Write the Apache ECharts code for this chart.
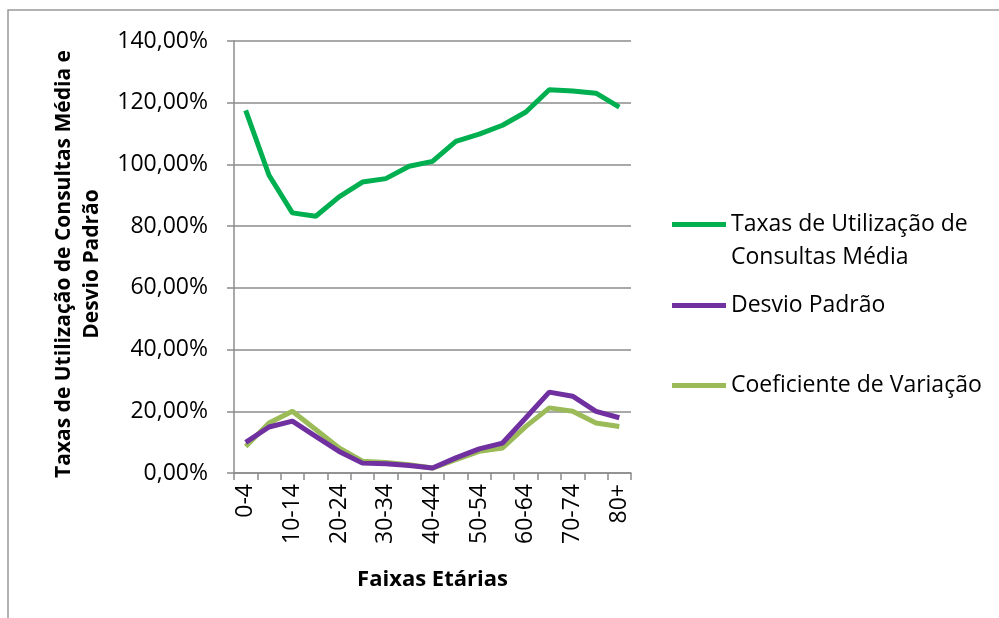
<!DOCTYPE html>
<html>
<head>
<meta charset="utf-8">
<script src="https://cdn.jsdelivr.net/npm/echarts@6/dist/echarts.min.js"></script>
<style>
	html, body { margin: 0; padding: 0; background: #fff; }
	#chart { width: 999px; height: 618px; }
</style>
</head>
<body>
<div id="chart"></div>
<script>
var faixas = ['0-4', '5-9', '10-14', '15-19', '20-24', '25-29', '30-34', '35-39', '40-44',
	'45-49', '50-54', '55-59', '60-64', '65-69', '70-74', '75-79', '80+'];

var taxaMedia = [117.5, 96.5, 84.3, 83.2, 89.5, 94.3, 95.4, 99.4, 101.0,
	107.5, 109.8, 112.7, 117.0, 124.2, 123.8, 123.1, 118.6];

var desvioPadrao = [9.9, 14.9, 16.8, 11.9, 7.0, 3.2, 3.0, 2.4, 1.6,
	4.9, 7.8, 9.7, 17.9, 26.2, 24.9, 20.0, 17.9];

var coefVariacao = [8.6, 16.2, 20.0, 14.1, 8.1, 3.8, 3.4, 2.7, 1.6,
	4.3, 7.0, 8.1, 15.1, 21.1, 20.0, 16.2, 15.1];

var nomes = ['Taxas de Utilização de\nConsultas Média', 'Desvio Padrão', 'Coeficiente de Variação'];
var cores = ['#00b050', '#7030a0', '#9bbb59'];

var fonte = '"Open Sans", sans-serif';
var cinza = '#8c8c8c';

function legenda(i, top) {
	return {
		data: [nomes[i]],
		left: 672,
		top: top,
		icon: 'rect',
		itemWidth: 54,
		itemHeight: 5,
		itemGap: 0,
		padding: 0,
		// icon sits on the first line of a two-line name
		formatter: function (name) {
			return name.indexOf('\n') >= 0 ? '\n' + name : name;
		},
		textStyle: {
			fontFamily: fonte,
			fontSize: 23,
			color: '#000',
			lineHeight: 33
		}
	};
}

function serie(i, dados) {
	return {
		name: nomes[i],
		type: 'line',
		data: dados,
		symbol: 'none',
		color: cores[i],
		lineStyle: { width: 5, color: cores[i] },
		z: 3 - i
	};
}

var option = {
	animation: false,
	backgroundColor: '#fff',
	legend: [
		legenda(0, 175),
		legenda(1, 289),
		legenda(2, 369)
	],
	grid: {
		left: 234,
		right: 368,
		top: 41,
		bottom: 145
	},
	xAxis: {
		type: 'category',
		data: faixas,
		boundaryGap: true,
		name: 'Faixas Etárias',
		nameLocation: 'middle',
		nameGap: 96,
		nameTextStyle: {
			fontFamily: fonte,
			fontSize: 22,
			fontWeight: 'bold',
			color: '#000'
		},
		axisLine: { lineStyle: { color: cinza, width: 1.5 } },
		axisTick: { show: true, length: 7, interval: 0, lineStyle: { color: cinza, width: 1.5 } },
		axisLabel: {
			interval: 1,
			rotate: 90,
			margin: 11,
			fontFamily: fonte,
			fontSize: 23,
			color: '#000'
		}
	},
	yAxis: {
		type: 'value',
		min: 0,
		max: 140,
		interval: 20,
		name: 'Taxas de Utilização de Consultas Média e\nDesvio Padrão',
		nameLocation: 'middle',
		nameGap: 128,
		nameTextStyle: {
			fontFamily: fonte,
			fontSize: 21,
			fontWeight: 'bold',
			color: '#000',
			lineHeight: 28,
			padding: [0, 14, 0, 0]
		},
		axisLine: { show: true, lineStyle: { color: cinza, width: 1.5 } },
		axisTick: { show: true, length: 7, lineStyle: { color: cinza, width: 1.5 } },
		splitLine: { lineStyle: { color: cinza, width: 1.5 } },
		axisLabel: {
			margin: 26,
			fontFamily: fonte,
			fontSize: 23,
			color: '#000',
			formatter: function (v) {
				return v.toFixed(2).replace('.', ',') + '%';
			}
		}
	},
	graphic: [{
		type: 'rect',
		shape: { x: 8, y: 10, width: 1100, height: 700 },
		style: { fill: null, stroke: '#999', lineWidth: 1.5 },
		silent: true
	}],
	series: [
		serie(0, taxaMedia),
		serie(1, desvioPadrao),
		serie(2, coefVariacao)
	]
};

var chart = echarts.init(document.getElementById('chart'));
chart.setOption(option);
</script>
</body>
</html>
